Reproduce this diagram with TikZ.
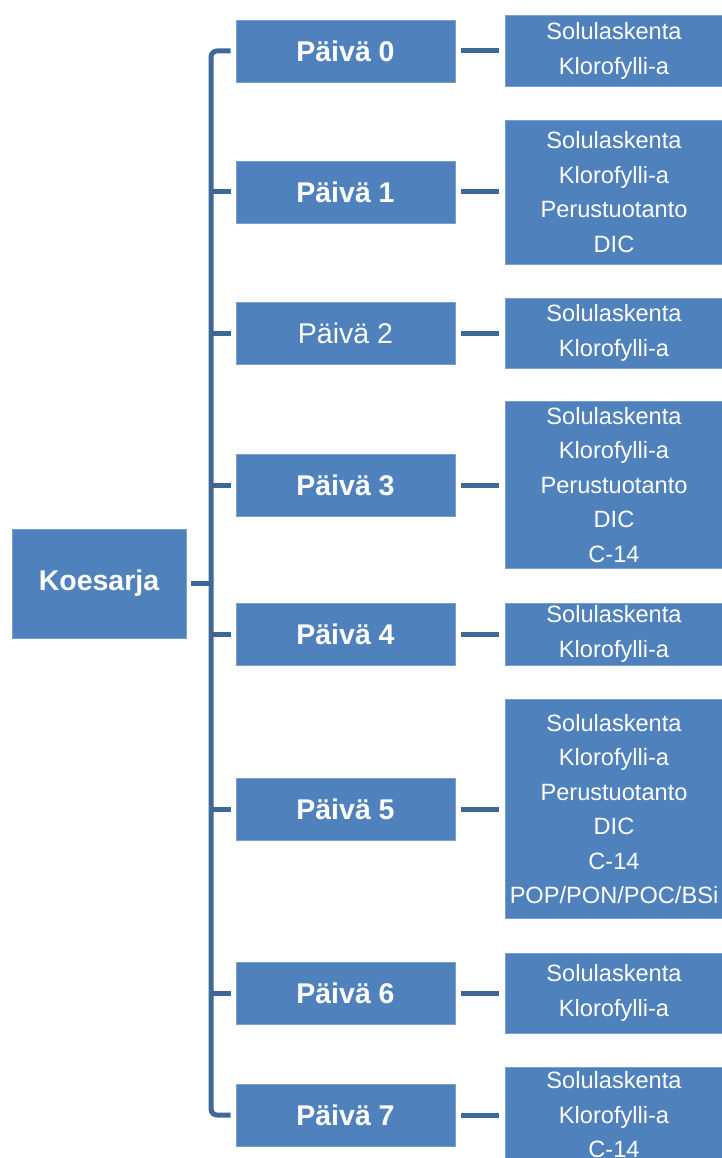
\documentclass[tikz,border=0pt]{standalone}
\usepackage{fontspec}
\setmainfont{Liberation Sans}
\usetikzlibrary{calc}
\definecolor{boxblue}{RGB}{79,129,189}
\definecolor{lineblue}{RGB}{62,104,152}
\begin{document}
\begin{tikzpicture}[x=1pt,y=-1pt,
  box/.style={fill=boxblue, draw=boxblue!75!white, line width=0.6pt, text=white, inner sep=0pt, align=center},
  rootbox/.style={box, minimum width=174pt, minimum height=109pt, font=\fontsize{28.5}{34}\selectfont\bfseries},
  daybox/.style={box, minimum width=219pt, minimum height=62pt, font=\fontsize{28.5}{34}\selectfont\bfseries},
  dayplain/.style={box, minimum width=219pt, minimum height=62pt, font=\fontsize{28.5}{34}\selectfont},
  detail/.style={box, minimum width=218pt, font=\fontsize{23.6}{34.5}\selectfont},
  conn/.style={draw=lineblue, line width=5pt},
  link/.style={conn, shorten <=6pt, shorten >=6pt}
]
\useasboundingbox (0,0) rectangle (722,1158);

\node[rootbox] (k) at (99,583.5) {Koesarja};

\node[daybox]   (d0) at (345.5,51)   {Päivä 0};
\node[daybox]   (d1) at (345.5,192)  {Päivä 1};
\node[dayplain] (d2) at (345.5,333)  {Päivä 2};
\node[daybox]   (d3) at (345.5,485)  {Päivä 3};
\node[daybox]   (d4) at (345.5,634)  {Päivä 4};
\node[daybox]   (d5) at (345.5,809)  {Päivä 5};
\node[daybox]   (d6) at (345.5,993)  {Päivä 6};
\node[daybox]   (d7) at (345.5,1115) {Päivä 7};

\node[detail, minimum height=71pt]  (t0) at (614,51)   {Solulaskenta\\Klorofylli-a};
\node[detail, minimum height=144pt] (t1) at (614,192)  {Solulaskenta\\Klorofylli-a\\Perustuotanto\\DIC};
\node[detail, minimum height=70pt]  (t2) at (614,333)  {Solulaskenta\\Klorofylli-a};
\node[detail, minimum height=167pt] (t3) at (614,485)  {Solulaskenta\\Klorofylli-a\\Perustuotanto\\DIC\\C-14};
\node[detail, minimum height=62pt]  (t4) at (614,634)  {Solulaskenta\\Klorofylli-a};
\node[detail, minimum height=219pt] (t5) at (614,809)  {Solulaskenta\\Klorofylli-a\\Perustuotanto\\DIC\\C-14\\POP/PON/POC/BSi};
\node[detail, minimum height=80pt]  (t6) at (614,993)  {Solulaskenta\\Klorofylli-a};
\node[detail, minimum height=96pt]  (t7) at (614,1115) {Solulaskenta\\Klorofylli-a\\C-14};

\coordinate (sp) at (211,583.5);
\draw[conn, rounded corners=6pt] ([xshift=-5pt]d0.west) -| (sp) |- ([xshift=-5pt]d7.west);
\draw[conn] ([xshift=5pt]k.east) -- (sp);
\foreach \i in {1,...,6} {
  \draw[conn] ([xshift=-5pt]d\i.west) -- (sp |- d\i.west);
}
\foreach \i in {0,...,7} {
  \draw[link] (d\i) -- (t\i);
}
\end{tikzpicture}
\end{document}
